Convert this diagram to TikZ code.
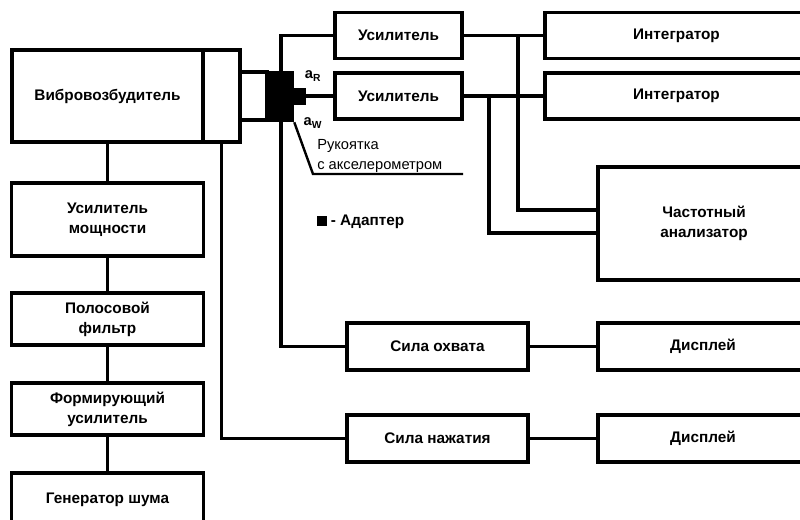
\documentclass[tikz,border=0pt]{standalone}
\usepackage{fontspec}
\setmainfont{Liberation Sans}
\begin{document}
\begin{tikzpicture}[x=0.75pt,y=-0.75pt,
		blok/.style={draw,line width=2.7pt,align=center,inner sep=0pt,font=\bfseries\fontsize{11.5}{15}\selectfont},
		svyaz/.style={line width=2.5pt}]
			\useasboundingbox (0,0) rectangle (800,519);
			\node[blok,minimum width=143.25pt,minimum height=69pt](vib) at (107.5,96){Вибровозбудитель};
			\node[blok,minimum width=27.75pt,minimum height=69pt](vibc) at (221.5,96){};
			\node[blok,minimum width=20.25pt,minimum height=36pt](stb) at (253.5,96){};
			\node[fill=black,inner sep=0pt,minimum width=19.5pt,minimum height=38.25pt](adp) at (281,96.5){};
			\node[fill=black,inner sep=0pt,minimum width=9.75pt,minimum height=12.75pt](nub) at (299,96){};
			
			\node[blok,minimum width=144pt,minimum height=54.75pt](um) at (107.5,219.5){Усилитель\\мощности};
			\node[blok,minimum width=144pt,minimum height=39pt](pf) at (107.5,319){Полосовой\\фильтр};
			\node[blok,minimum width=144pt,minimum height=39pt](fu) at (107.5,409){Формирующий\\усилитель};
			\node[blok,minimum width=144pt,minimum height=40.5pt](gs) at (107.5,500){Генератор шума};
			
			\node[blok,minimum width=95.25pt,minimum height=34.5pt](usl1) at (398.5,35.5){Усилитель};
			\node[blok,minimum width=95.25pt,minimum height=34.5pt](usl2) at (398.5,96){Усилитель};
			\node[blok,minimum width=197.25pt,minimum height=34.5pt](int1) at (676.5,35.5){Интегратор};
			\node[blok,minimum width=197.25pt,minimum height=34.5pt](int2) at (676.5,96){Интегратор};
			\node[blok,minimum width=159pt,minimum height=84.75pt](fa) at (704,223.5){Частотный\\анализатор};
			
			\node[blok,minimum width=135.75pt,minimum height=35.25pt](sox) at (437.5,346.5){Сила охвата};
			\node[blok,minimum width=135.75pt,minimum height=35.25pt](snj) at (437.5,438.5){Сила нажатия};
			\node[blok,minimum width=157.5pt,minimum height=35.25pt](dsp1) at (703,346.5){Дисплей};
			\node[blok,minimum width=157.5pt,minimum height=35.25pt](dsp2) at (703,438.5){Дисплей};
			
			\node[font=\bfseries\fontsize{11}{12}\selectfont](aR) at (313,76){a\textsubscript{R}};
			\node[font=\bfseries\fontsize{11}{12}\selectfont](aW) at (313,123){a\textsubscript{W}};
			\node[anchor=west,align=left,inner sep=0pt,font=\fontsize{11}{15}\selectfont](ruk) at (317,156){Рукоятка\\с акселерометром};
			\node[anchor=west,inner sep=0pt,font=\bfseries\fontsize{11.5}{12}\selectfont](adpt) at (317,222){\rule{7pt}{7pt} - Адаптер};
			
			\coordinate (j1) at (518,35.5);
			\coordinate (j2) at (489,96);
			\coordinate (fa1) at (598,210);
			\coordinate (fa2) at (598,233);
			\coordinate (h1) at (313,174);
			\coordinate (h2) at (463,174);
			
			\draw[svyaz](vib)--(um);
			\draw[svyaz](um)--(pf);
			\draw[svyaz](pf)--(fu);
			\draw[svyaz](fu)--(gs);
			\draw[svyaz](vibc.south)|-(snj.west);
			\draw[svyaz](usl1.west)-|(adp.center)|-(sox.west);
			\draw[svyaz](nub.east)--(usl2.west);
			\draw[svyaz](usl1)--(int1);
			\draw[svyaz](usl2)--(int2);
			\draw[svyaz](j1)|-(fa1);
			\draw[svyaz](j2)|-(fa2);
			\draw[svyaz](sox)--(dsp1);
			\draw[svyaz](snj)--(dsp2);
			\draw[line width=1.8pt](adp.south east)--(h1)--(h2);
		\end{tikzpicture}
\end{document}
